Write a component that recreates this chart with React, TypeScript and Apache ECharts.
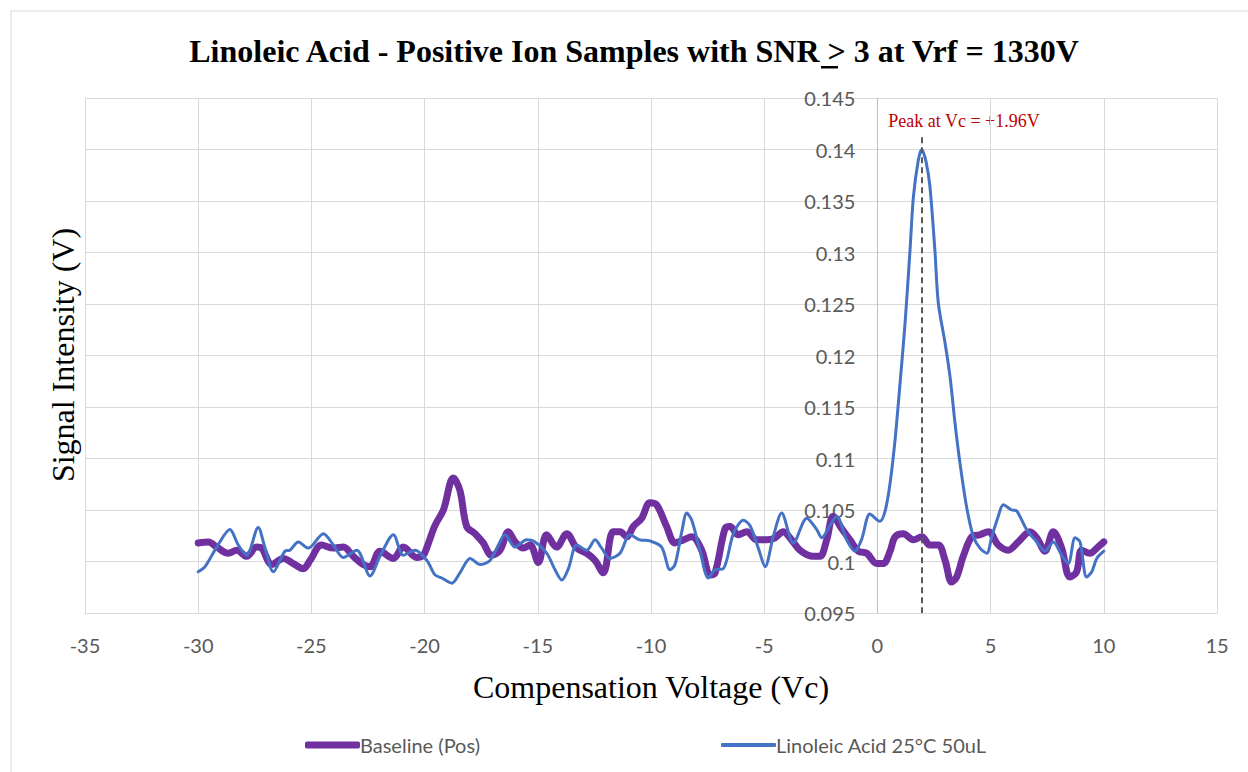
import React, { useEffect, useRef } from "react";
import * as echarts from "echarts";

const titleText = "Linoleic Acid - Positive Ion Samples with SNR > 3 at Vrf = 1330V";
const xAxisTitle = "Compensation Voltage (Vc)";
const yAxisTitle = "Signal Intensity (V)";
const peakNote = "Peak at Vc = +1.96V";
const seriesNames = ["Baseline (Pos)", "Linoleic Acid 25°C 50uL"];
const peakVc = 1.96;

const baselineVc = [
  -30, -29.55, -29.18, -28.67, -28.3, -27.86, -27.42, -27.2, -26.75, -26.24, -25.8, -25.36, -25.06,
  -24.55, -24.03, -23.59, -23.15, -22.71, -22.41, -21.97, -21.38, -20.94, -20.35, -20.06, -19.91,
  -19.54, -19.17, -18.73, -18.44, -18.14, -17.77, -17.41, -17.04, -16.67, -16.3, -16.0, -15.64,
  -15.34, -14.98, -14.61, -14.17, -13.72, -13.28, -12.84, -12.47, -12.11, -11.67, -11.37, -11.07,
  -10.78, -10.41, -10.05, -9.75, -9.31, -8.94, -8.57, -8.2, -7.76, -7.39, -7.17, -6.73, -6.51,
  -6.14, -5.77, -5.33, -4.89, -4.52, -4.16, -3.86, -3.42, -2.83, -2.54, -2.24, -1.95, -1.58,
  -1.21, -0.84, -0.47, -0.03, 0.26, 0.56, 0.78, 1.14, 1.59, 1.96, 2.32, 2.69, 2.99, 3.28, 3.5,
  3.79, 4.17, 4.53, 4.9, 5.34, 5.78, 6.22, 6.74, 7.04, 7.4, 7.77, 8.14, 8.5, 8.8, 9.02, 9.39,
  9.69, 10,
];
const baselineSignal = [
  0.1018, 0.1019, 0.1014, 0.1008, 0.1011, 0.1005, 0.1014, 0.1013, 0.0997, 0.1003, 0.0998, 0.0993,
  0.1001, 0.1016, 0.1013, 0.1014, 0.1005, 0.0997, 0.0995, 0.101, 0.1003, 0.1014, 0.1004, 0.1006,
  0.1013, 0.1035, 0.105, 0.1081, 0.1069, 0.1034, 0.1027, 0.1018, 0.1006, 0.1011, 0.1029, 0.1019,
  0.1013, 0.1016, 0.0999, 0.1026, 0.1014, 0.1027, 0.1013, 0.1008, 0.1001, 0.0989, 0.1029, 0.1029,
  0.1024, 0.1034, 0.1042, 0.1057, 0.1055, 0.1034, 0.1018, 0.1021, 0.1024, 0.1011, 0.0987, 0.0989,
  0.1032, 0.1034, 0.1026, 0.1029, 0.1021, 0.1021, 0.1023, 0.1029, 0.1023, 0.1011, 0.1005, 0.1005,
  0.1021, 0.1044, 0.1032, 0.1021, 0.101, 0.1008, 0.0998, 0.0998, 0.101, 0.1024, 0.1027, 0.1021,
  0.1024, 0.1016, 0.1016, 0.1001, 0.098, 0.0985, 0.1005, 0.1024, 0.1026, 0.1029, 0.1016, 0.1011,
  0.1019, 0.1029, 0.1023, 0.101, 0.1029, 0.1013, 0.0985, 0.099, 0.1011, 0.1008, 0.1013, 0.1019,
];

const acidVc = [
  -30, -29.7, -29.18, -28.6, -28.23, -27.86, -27.35, -27.06, -26.68, -26.17, -25.95, -25.58, -25.14,
  -24.47, -24.03, -23.59, -23.0, -22.41, -21.97, -21.38, -20.94, -20.42, -19.9, -19.54, -19.24,
  -18.8, -18.44, -17.99, -17.55, -17.11, -16.74, -16.45, -16.0, -15.49, -15.12, -14.6, -14.24,
  -13.94, -13.65, -13.28, -12.84, -12.47, -12.18, -11.81, -11.37, -10.93, -10.49, -10.05, -9.53,
  -9.16, -8.94, -8.64, -8.42, -8.2, -7.84, -7.47, -7.17, -6.81, -6.36, -5.92, -5.63, -5.26, -4.96,
  -4.6, -4.23, -3.71, -3.12, -2.68, -2.46, -2.09, -1.8, -1.36, -0.99, -0.69, -0.33, 0.11, 0.34,
  0.56, 0.78, 1.0, 1.22, 1.44, 1.59, 1.81, 1.96, 2.15, 2.32, 2.54, 2.69, 2.99, 3.21, 3.43, 3.65,
  3.94, 4.24, 4.53, 4.83, 5.05, 5.34, 5.56, 5.93, 6.15, 6.59, 7.04, 7.4, 7.77, 8.14, 8.43, 8.73,
  8.95, 9.24, 9.47, 9.69, 10,
];
const acidSignal = [
  0.099, 0.0995, 0.1014, 0.1031, 0.1016, 0.1006, 0.1033, 0.1014, 0.099, 0.101, 0.1011, 0.1019,
  0.1013, 0.1027, 0.1016, 0.1004, 0.1011, 0.0986, 0.1005, 0.1026, 0.1006, 0.1011, 0.1001, 0.0987,
  0.0984, 0.0979, 0.0989, 0.1003, 0.0997, 0.1001, 0.1016, 0.1026, 0.1014, 0.1021, 0.1019, 0.1008,
  0.0992, 0.0982, 0.0993, 0.1016, 0.1011, 0.1021, 0.1013, 0.1003, 0.1008, 0.1026, 0.1021, 0.102,
  0.1014, 0.0992, 0.0997, 0.1029, 0.1047, 0.104, 0.1011, 0.0984, 0.0992, 0.0993, 0.1027, 0.104,
  0.1035, 0.1013, 0.0995, 0.1024, 0.1047, 0.1018, 0.1042, 0.1031, 0.1023, 0.1035, 0.1044, 0.1021,
  0.101, 0.1022, 0.1046, 0.1039, 0.1049, 0.1076, 0.1118, 0.1173, 0.1231, 0.1302, 0.1354, 0.139,
  0.14, 0.1388, 0.1364, 0.1302, 0.1251, 0.1212, 0.1179, 0.1134, 0.1095, 0.1053, 0.1024, 0.1013,
  0.1008, 0.1024, 0.1044, 0.1055, 0.105, 0.1049, 0.1031, 0.1019, 0.101, 0.1019, 0.1006, 0.0998,
  0.1023, 0.1019, 0.0985, 0.099, 0.1003, 0.101,
];

const zip = (xs: number[], ys: number[]) => xs.map((x, i) => [x, ys[i]]);

export default function App() {
  const ref = useRef<HTMLDivElement>(null);
  useEffect(() => {
    if (!ref.current) return;
    const chart = echarts.init(ref.current, undefined, { renderer: "svg" });
    const tickFont = { color: "#595959", fontSize: 20, fontFamily: "Lato" };
    const legendText = { color: "#595959", fontSize: 20, fontFamily: "Lato", padding: [0, 0, 0, -5] };
    chart.setOption({
      animation: false,
      backgroundColor: "#ffffff",
      grid: { left: 85, right: 31, top: 98, bottom: 159 },
      xAxis: {
        type: "value",
        min: -35,
        max: 15,
        interval: 5,
        axisLine: { show: true, onZero: false, lineStyle: { color: "#d9d9d9", width: 1 } },
        axisTick: { show: false },
        splitLine: { show: true, lineStyle: { color: "#d9d9d9", width: 1 } },
        axisLabel: { ...tickFont, margin: 22 },
      },
      yAxis: {
        type: "value",
        min: 0.095,
        max: 0.145,
        interval: 0.005,
        position: "left",
        offset: -792.4,
        axisLine: { show: true, onZero: false, lineStyle: { color: "#bfbfbf", width: 1 } },
        axisTick: { show: false },
        splitLine: { show: true, lineStyle: { color: "#d9d9d9", width: 1 } },
        axisLabel: {
          ...tickFont,
          margin: 22,
          formatter: (v: number) => String(parseFloat(v.toFixed(3))),
        },
      },
      legend: [
        {
          data: [seriesNames[0]],
          left: 300,
          top: 730,
          icon: "roundRect",
          itemWidth: 55,
          itemHeight: 7,
          itemGap: 5,
          textStyle: legendText,
        },
        {
          data: [seriesNames[1]],
          left: 716,
          top: 730,
          icon: "roundRect",
          itemWidth: 55,
          itemHeight: 4,
          itemGap: 5,
          textStyle: legendText,
        },
      ],
      series: [
        {
          name: seriesNames[0],
          type: "line",
          data: zip(baselineVc, baselineSignal),
          symbol: "none",
          smooth: 0.35,
          color: "#7030A0",
          lineStyle: { color: "#7030A0", width: 7, cap: "round", join: "round" },
          z: 2,
        },
        {
          name: seriesNames[1],
          type: "line",
          data: zip(acidVc, acidSignal),
          symbol: "none",
          smooth: 0.3,
          color: "#4472C4",
          lineStyle: { color: "#4472C4", width: 3, cap: "round", join: "round" },
          z: 3,
          markLine: {
            silent: true,
            symbol: "none",
            label: { show: false },
            lineStyle: { color: "#595959", type: [6, 4], width: 2 },
            data: [[{ coord: [peakVc, 0.1412] }, { coord: [peakVc, 0.095] }]],
          },
        },
      ],
      graphic: [
        {
          type: "rect",
          shape: { x: 11, y: 11, width: 1260, height: 800 },
          style: { fill: "none", stroke: "#d9d9d9", lineWidth: 1 },
          silent: true,
          z: -10,
        },
        {
          type: "text",
          x: 634,
          y: 51,
          style: {
            text: titleText,
            fill: "#000000",
            font: "bold 32px 'Liberation Serif'",
            textAlign: "center",
            textVerticalAlign: "middle",
          },
        },
        {
          type: "rect",
          shape: { x: 821, y: 66, width: 17, height: 2.5 },
          style: { fill: "#000000" },
        },
        {
          type: "text",
          x: 651,
          y: 687,
          style: {
            text: xAxisTitle,
            fill: "#000000",
            font: "32px 'Liberation Serif'",
            textAlign: "center",
            textVerticalAlign: "middle",
          },
        },
        {
          type: "text",
          x: 63,
          y: 355,
          rotation: Math.PI / 2,
          style: {
            text: yAxisTitle,
            fill: "#000000",
            font: "32px 'Liberation Serif'",
            textAlign: "center",
            textVerticalAlign: "middle",
          },
        },
        {
          type: "text",
          x: 964,
          y: 121,
          style: {
            text: peakNote,
            fill: "#C00000",
            font: "18px 'Liberation Serif'",
            textAlign: "center",
            textVerticalAlign: "middle",
          },
        },
      ],
    });
    return () => chart.dispose();
  }, []);
  return (
    <div
      ref={ref}
      style={{ position: "fixed", left: 0, top: 0, width: 1248, height: 772, background: "#fff" }}
    />
  );
}
